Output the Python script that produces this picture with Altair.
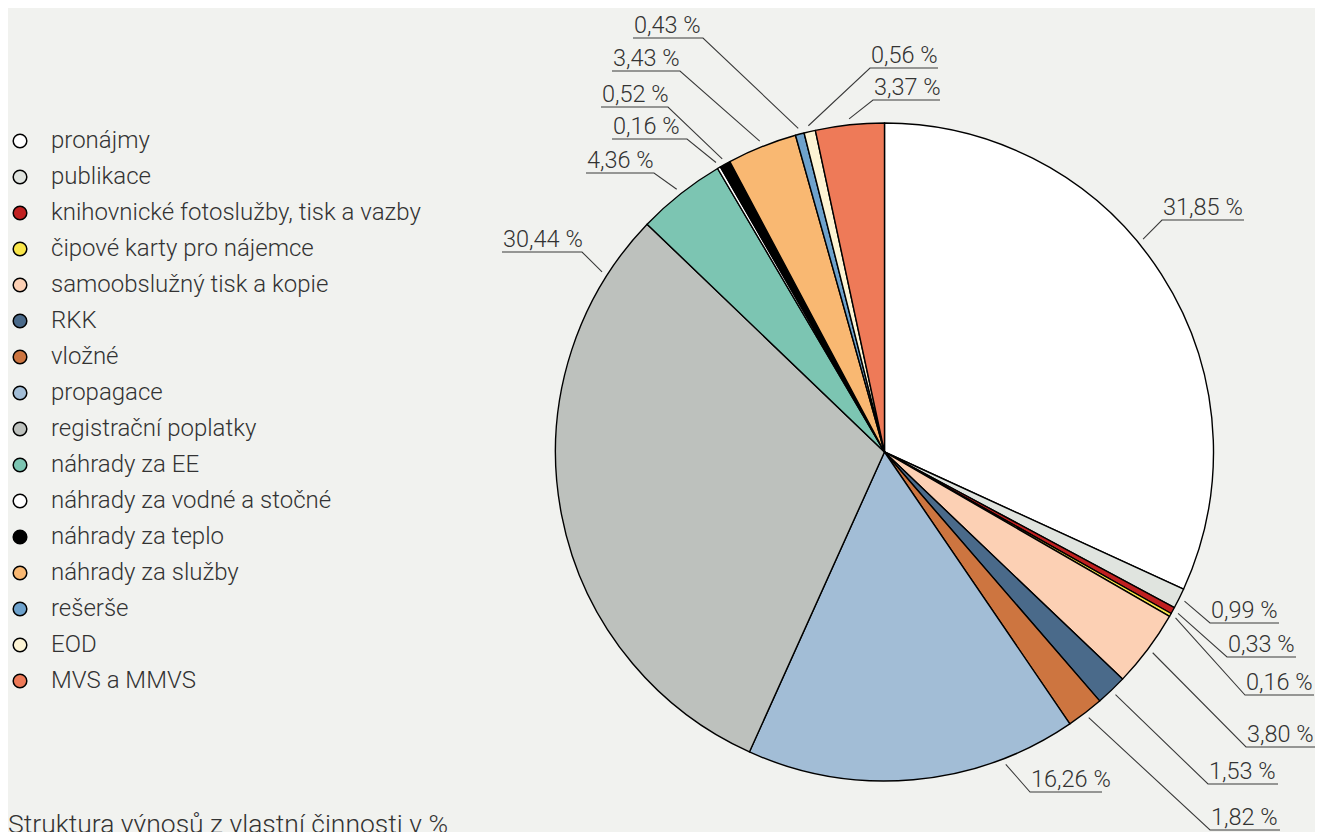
import math
import altair as alt
import pandas as pd

# ---------------- data ----------------
categories = [
    "pronájmy", "publikace", "knihovnické fotoslužby, tisk a vazby",
    "čipové karty pro nájemce", "samoobslužný tisk a kopie", "RKK", "vložné",
    "propagace", "registrační poplatky", "náhrady za EE",
    "náhrady za vodné a stočné", "náhrady za teplo", "náhrady za služby",
    "rešerše", "EOD", "MVS a MMVS",
]
values = [31.85, 0.99, 0.33, 0.16, 3.80, 1.53, 1.82, 16.26, 30.44, 4.36,
          0.16, 0.52, 3.43, 0.43, 0.56, 3.37]
colors = ["#ffffff", "#e0e4df", "#c02020", "#f9e64a", "#fcd0b4", "#4a6a8a",
          "#cd7540", "#a2bdd6", "#bdc1bd", "#7cc5b2", "#ffffff", "#000000",
          "#f9b872", "#6ea2cc", "#fdf4d4", "#ee7a58"]
title_text = "Struktura výnosů z vlastní činnosti v %"

# ---------------- layout (label placement) ----------------
BG = "#f1f2ef"
TXT = "#333333"
FONT = "Roboto"
W, H = 1307, 824
CX, CY, R = 884.5, 452.0, 329
LEADER_R = 335
label_side = ["R", "R", "R", "R", "R", "R", "R", "R",
              "L", "L", "L", "L", "L", "L", "R", "R"]
elbow_x = [1162, 1210, 1227, 1245, 1246, 1208, 1210, 1030,
           582, 654, 687, 668, 680, 703, 870, 873]
elbow_y = [220, 623, 657, 695, 747, 784, 830, 792,
           252, 173, 139, 107, 71, 38, 68, 100]
underline_len = [82, 69, 69, 69, 69, 70, 70, 72,
                 80, 68, 75, 67, 68, 70, 68, 67]
angle_shift = [-6.8, 0, 0, 0, 0, 0, 0, -16.2,
               43.5, 0, 0, 0, 0, 0, 0, 0]

total = sum(values)
pie_df = pd.DataFrame({"cat": categories, "value": values,
                       "idx": list(range(len(values)))})

line_rows, text_rows = [], []
cum = 0.0
for i, v in enumerate(values):
    mid = (cum + v / 2) / total * 360 + angle_shift[i]
    cum += v
    a = math.radians(mid)
    sx = CX + LEADER_R * math.sin(a)
    sy = CY - LEADER_R * math.cos(a)
    ex, ey = elbow_x[i], elbow_y[i]
    ox = ex + underline_len[i] if label_side[i] == "R" else ex - underline_len[i]
    for k, (px, py) in enumerate([(sx, sy), (ex, ey), (ox, ey)]):
        line_rows.append({"lab": i, "ord": k, "px": px, "py": py})
    text_rows.append({"lab": i, "tx": min(ex, ox) + 1, "ty": ey - 5,
                      "text": f"{v:.2f}".replace(".", ",") + " %"})
lines_df = pd.DataFrame(line_rows)
text_df = pd.DataFrame(text_rows)

xscale = alt.Scale(domain=[8, 8 + W], range=[0, W], nice=False, zero=False)
yscale = alt.Scale(domain=[8, 8 + H], range=[0, H], nice=False, zero=False)

pie = alt.Chart(pie_df).mark_arc(
    radius=R, stroke="black", strokeWidth=1.4, strokeJoin="round"
).encode(
    theta=alt.Theta("value:Q", stack=True),
    order=alt.Order("idx:Q"),
    color=alt.Color(
        "cat:N",
        scale=alt.Scale(domain=categories, range=colors),
        sort=categories,
        legend=alt.Legend(
            orient="none", legendX=0, legendY=121, direction="vertical",
            title=None, symbolType="circle", symbolSize=185,
            symbolStrokeColor="black", symbolStrokeWidth=1.5,
            symbolOpacity=1, labelFont=FONT, labelFontWeight=300,
            labelFontSize=24, labelColor=TXT, rowPadding=12,
            labelOffset=19, padding=0, labelLimit=600,
        ),
    ),
    x=alt.XDatum(CX, type="quantitative", scale=xscale, axis=None),
    y=alt.YDatum(CY, type="quantitative", scale=yscale, axis=None),
)

leaders = alt.Chart(lines_df).mark_line(
    color="#3a3a3a", strokeWidth=1.1
).encode(
    x=alt.X("px:Q", scale=xscale, axis=None),
    y=alt.Y("py:Q", scale=yscale, axis=None),
    detail="lab:N",
    order=alt.Order("ord:Q"),
)

texts = alt.Chart(text_df).mark_text(
    align="left", baseline="alphabetic", font=FONT, fontWeight=300,
    fontSize=23.5, color=TXT
).encode(
    x=alt.X("tx:Q", scale=xscale, axis=None),
    y=alt.Y("ty:Q", scale=yscale, axis=None),
    text="text:N",
)

chart = alt.layer(pie, leaders, texts).properties(
    width=W, height=H, padding=0,
    autosize=alt.AutoSizeParams(type="none"),
    background=BG,
    title=alt.Title(title_text, orient="bottom", anchor="start", offset=1,
                    baseline="alphabetic", font=FONT, fontWeight=300,
                    fontSize=26.5, color=TXT),
).configure_view(stroke=None).configure_axis(grid=False)

chart.save("out.html", embed_options={"renderer": "svg", "actions": False})
